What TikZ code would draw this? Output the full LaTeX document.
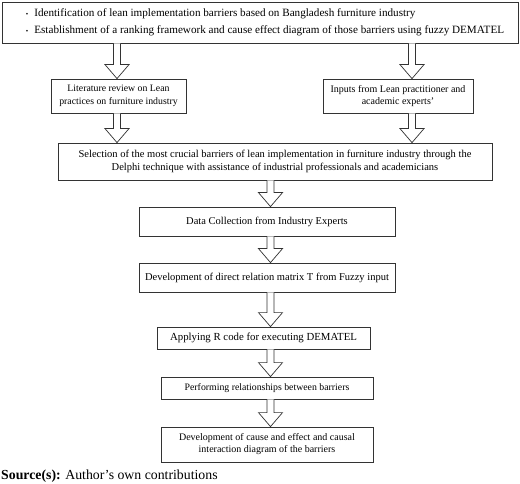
\documentclass[tikz,border=0pt]{standalone}
\usepackage{fontspec}
\setmainfont{Liberation Serif}
\usetikzlibrary{calc}

% hollow block arrow: column, from node, to node
\newcommand{\flowarrow}[3]{%
  \draw[arrowbody] ($(#2.south -| #1)+(-3.5pt,0)$) -- ($(#3.north -| #1)+(-3.5pt,14pt)$)
    -- ($(#3.north -| #1)+(-12pt,14pt)$) -- (#3.north -| #1)
    -- ($(#3.north -| #1)+(12pt,14pt)$) -- ($(#3.north -| #1)+(3.5pt,14pt)$)
    -- ($(#2.south -| #1)+(3.5pt,0)$);}

\begin{document}
\begin{tikzpicture}[x=1pt,y=-1pt,
    stage/.style={draw=black!80,line width=0.8pt,fill=white,inner sep=0pt,align=center,
      font=\fontsize{10.5}{12.5}\selectfont},
    arrowbody/.style={draw=black!80,line width=0.7pt,fill=white,line join=miter}]
        \useasboundingbox (0,0) rectangle (520,484);

        % top box with the two aims
        \node[stage,minimum width=516pt,minimum height=41pt,align=left,
          font=\fontsize{11.15}{17}\selectfont] (aims) at (260,22.5)
          {\hspace{10pt}{\scriptsize\textbullet}\hspace{6pt}Identification of lean implementation barriers based on Bangladesh furniture industry\\
           \hspace{10pt}{\scriptsize\textbullet}\hspace{6pt}Establishment of a ranking framework and cause effect diagram of those barriers using fuzzy DEMATEL};

        % second line
        \node[stage,minimum width=135pt,minimum height=34pt,font=\fontsize{9.8}{12.5}\selectfont] (lit) at (118.5,96)
          {Literature review on Lean\\practices on furniture industry};
        \node[stage,minimum width=150pt,minimum height=34pt,font=\fontsize{10}{12.5}\selectfont] (inp) at (398,96)
          {Inputs from Lean practitioner and\\academic experts’};

        % main column
        \node[stage,minimum width=434pt,minimum height=37pt] (sel) at (275,161.5)
          {Selection of the most crucial barriers of lean implementation in furniture industry through the\\
           Delphi technique with assistance of industrial professionals and academicians};
        \node[stage,minimum width=256pt,minimum height=29pt] (data) at (267,221.5)
          {Data Collection from Industry Experts};
        \node[stage,minimum width=256pt,minimum height=29pt,font=\fontsize{10.5}{12.5}\selectfont] (matrix) at (267,277.5)
          {Development of direct relation matrix T from Fuzzy input};
        \node[stage,minimum width=213pt,minimum height=22pt,font=\fontsize{10.8}{12.5}\selectfont] (rcode) at (263.5,338)
          {Applying R code for executing DEMATEL};
        \node[stage,minimum width=212pt,minimum height=22pt,font=\fontsize{9.8}{12.5}\selectfont] (rel) at (267,388)
          {Performing relationships between barriers};
        \node[stage,minimum width=212pt,minimum height=35pt,font=\fontsize{10}{12}\selectfont] (diag) at (267,444.5)
          {Development of cause and effect and causal\\interaction diagram of the barriers};

        \node[anchor=base west,inner sep=0pt,font=\fontsize{13.8}{15}\selectfont] (src) at (1,479)
          {\textbf{Source(s):} Author’s own contributions};

        % arrow columns
        \coordinate (colL) at (117,0);
        \coordinate (colR) at (412,0);
        \coordinate (colM) at (270.5,0);

        \flowarrow{colL}{aims}{lit}
        \flowarrow{colR}{aims}{inp}
        \flowarrow{colL}{lit}{sel}
        \flowarrow{colR}{inp}{sel}
        \flowarrow{colM}{sel}{data}
        \flowarrow{colM}{data}{matrix}
        \flowarrow{colM}{matrix}{rcode}
        \flowarrow{colM}{rcode}{rel}
        \flowarrow{colM}{rel}{diag}
    \end{tikzpicture}
\end{document}
